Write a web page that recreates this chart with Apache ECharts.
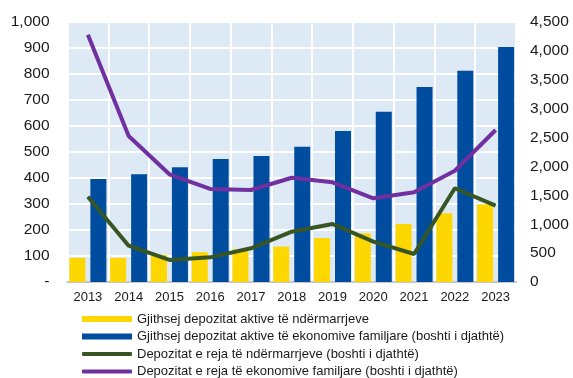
<!DOCTYPE html>
<html><head><meta charset="utf-8">
<script src="https://cdn.jsdelivr.net/npm/echarts@6/dist/echarts.min.js"></script>
<style>html,body{margin:0;padding:0;background:#fff}#c{width:573px;height:378px}</style>
</head><body><div id="c"></div>
<script>
const years = ['2013','2014','2015','2016','2017','2018','2019','2020','2021','2022','2023'];
const depNdermarrje = [93, 93, 104, 115, 126, 136, 169, 187, 223, 264, 299];
const depFamiljare = [1783, 1864, 1985, 2129, 2181, 2342, 2613, 2948, 3375, 3658, 4067];
const rejaNdermarrje = [1476, 628, 381, 427, 583, 871, 1004, 698, 485, 1622, 1321];
const rejaFamiljare = [4280, 2527, 1864, 1610, 1592, 1805, 1725, 1449, 1552, 1926, 2631];
const names = [
  'Gjithsej depozitat aktive të ndërmarrjeve',
  'Gjithsej depozitat aktive të ekonomive familjare (boshti i djathtë)',
  'Depozitat e reja të ndërmarrjeve (boshti i djathtë)',
  'Depozitat e reja të ekonomive familjare (boshti i djathtë)'
];
const colors = ['#FFD700', '#004D9F', '#375623', '#7030A0'];
const font = 'Liberation Sans, Arial, sans-serif';
const chart = echarts.init(document.getElementById('c'), null, {renderer: 'canvas'});
const legText = {fontSize: 13, lineHeight: 15, color: '#1a1a1a', fontFamily: font};
chart.setOption({
  animation: false,
  textStyle: {fontFamily: font, color: '#1a1a1a'},
  grid: {left: 67.5, right: 57, top: 22, bottom: 96, show: true, backgroundColor: '#DDE9F5', borderWidth: 0},
  xAxis: {
    type: 'category', data: years, boundaryGap: true,
    axisLine: {show: true, lineStyle: {color: '#C8C8C8', width: 2}},
    axisTick: {show: false},
    axisLabel: {fontSize: 13, color: '#1a1a1a', margin: 9, fontFamily: font},
    splitLine: {show: true, interval: 0, lineStyle: {color: '#fff', width: 2}}
  },
  yAxis: [
    {type: 'value', min: 0, max: 1000, interval: 100,
     axisLine: {show: false}, axisTick: {show: false},
     axisLabel: {fontSize: 15.5, color: '#1a1a1a', margin: 18, fontFamily: font,
       formatter: v => v === 0 ? '-' : v.toLocaleString('en-US')},
     splitLine: {show: true, lineStyle: {color: '#fff', width: 2}}},
    {type: 'value', min: 0, max: 4500, interval: 500,
     axisLine: {show: false}, axisTick: {show: false},
     axisLabel: {fontSize: 15.5, color: '#1a1a1a', margin: 14, fontFamily: font,
       formatter: v => v.toLocaleString('en-US')},
     splitLine: {show: false}}
  ],
  legend: [
    {orient: 'vertical', left: 77, top: 306.5, height: 40, itemWidth: 50, itemHeight: 6, itemGap: 2.5,
     icon: 'rect', data: [names[0], names[1]], textStyle: legText},
    {orient: 'vertical', left: 77, top: 341.5, height: 40, itemWidth: 50, itemHeight: 4, itemGap: 2.5,
     icon: 'roundRect', data: [names[2], names[3]], textStyle: legText}
  ],
  series: [
    {name: names[0], type: 'bar', yAxisIndex: 0, data: depNdermarrje, barWidth: 16, barGap: '31%',
     itemStyle: {color: colors[0]}},
    {name: names[1], type: 'bar', yAxisIndex: 1, data: depFamiljare, barWidth: 16,
     itemStyle: {color: colors[1]}},
    {name: names[2], type: 'line', yAxisIndex: 1, data: rejaNdermarrje, showSymbol: false, symbol: 'none',
     lineStyle: {color: colors[2], width: 4}, itemStyle: {color: colors[2]}, z: 5},
    {name: names[3], type: 'line', yAxisIndex: 1, data: rejaFamiljare, showSymbol: false, symbol: 'none',
     lineStyle: {color: colors[3], width: 4}, itemStyle: {color: colors[3]}, z: 5}
  ]
});
</script></body></html>
